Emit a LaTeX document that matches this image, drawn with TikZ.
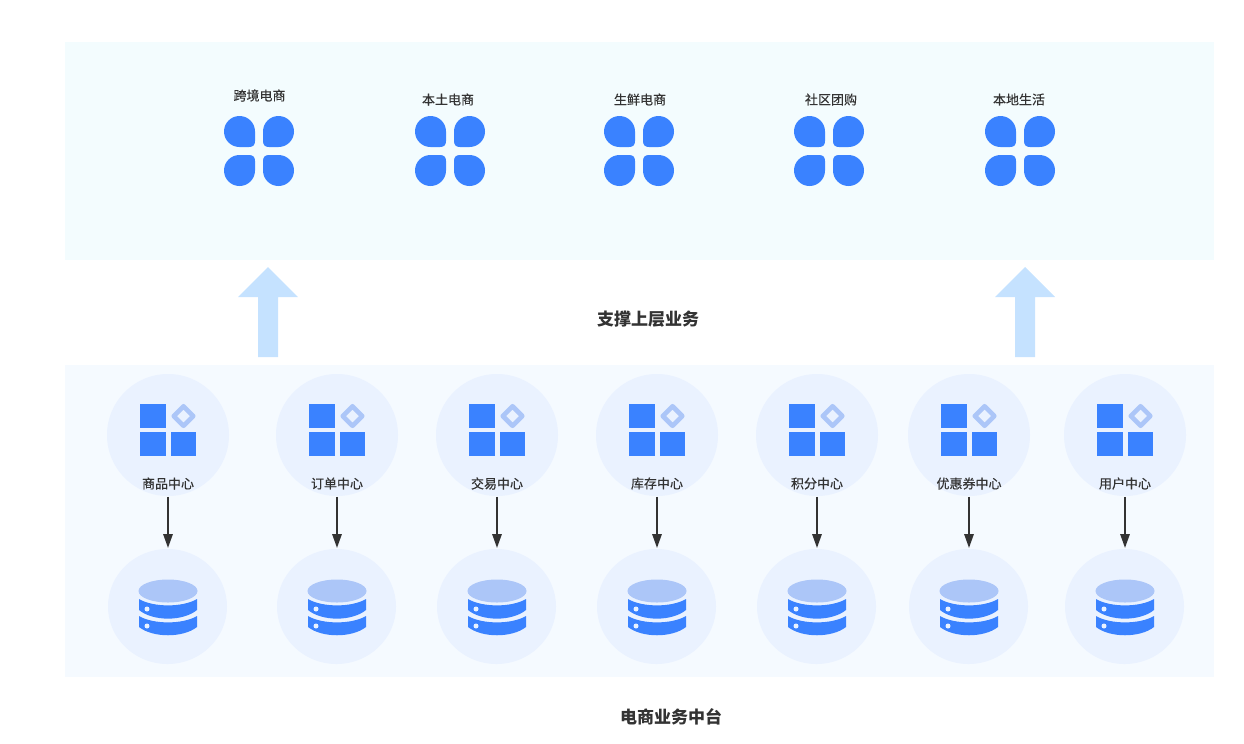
\documentclass[tikz,border=0pt]{standalone}
\usepackage{fontspec}
\setmainfont{Noto Sans CJK SC}
\newfontfamily\semibold[FakeBold=0.35]{Noto Sans CJK SC}
\usetikzlibrary{positioning,arrows.meta,shapes.geometric}
\definecolor{toppanel}{HTML}{F3FCFE}
\definecolor{lowpanel}{HTML}{F5FAFF}
\definecolor{disc}{HTML}{EAF2FF}
\definecolor{iconblue}{HTML}{3A82FF}
\definecolor{iconlight}{HTML}{ACC6F8}
\definecolor{bigarrow}{HTML}{C5E2FF}
\definecolor{ink}{HTML}{333333}
\tikzset{>={Triangle[length=10.5pt,width=7pt]}}
\newcommand{\petalpath}{(-19.5,-35) .. controls (-28.06,-35) and (-35,-28.06) .. (-35,-19.5) .. controls (-35,-10.94) and (-28.06,-4) .. (-19.5,-4) -- (-10,-4) .. controls (-6,-4) and (-4,-6) .. (-4,-10) -- (-4,-19.5) .. controls (-4,-28.06) and (-10.94,-35) .. (-19.5,-35) -- cycle}
\tikzset{
  tinylabel/.style={font=\fontsize{9.75}{11}\selectfont\semibold,text=ink,inner sep=0pt,minimum height=19.5pt},
  headline/.style={font=\fontsize{12.75}{15}\selectfont\bfseries,text=ink,inner sep=0pt},
  griddisc/.style={circle,fill=disc,inner sep=0pt,minimum size=91.5pt},
  dbdisc/.style={ellipse,fill=disc,inner sep=0pt,minimum width=89.25pt,minimum height=86.25pt},
  flow/.style={->,color=ink,line width=1.5pt},
  uparrow/.style={fill=bigarrow},
  appicon/.pic={
    \fill[iconblue] \petalpath;
    \fill[iconblue,xscale=-1] \petalpath;
    \fill[iconblue,yscale=-1] \petalpath;
    \fill[iconblue,xscale=-1,yscale=-1] \petalpath;
  },
  gridicon/.pic={
    \fill[iconblue] (-28,-31) rectangle (-2.5,-7);
    \fill[iconblue] (-28,-3) rectangle (-2.5,21);
    \fill[iconblue] (2.5,-3) rectangle (28,21);
    \draw[iconlight,line width=3.45pt,line join=round] (15.5,-28.75) -- (25.25,-19) -- (15.5,-9.25) -- (5.75,-19) -- cycle;
  },
  dbicon/.pic={
    \fill[iconlight] (0,-15) circle [x radius=29.5,y radius=11.5];
    \fill[iconblue] (-29,-7) .. controls (-15,1.5) and (15,1.5) .. (29,-7) -- (29,4) .. controls (15,15.5) and (-15,15.5) .. (-29,4) -- cycle;
    \fill[iconblue] (-29,10) .. controls (-15,18.5) and (15,18.5) .. (29,10) -- (29,21) .. controls (15,32) and (-15,32) .. (-29,21) -- cycle;
    \fill[disc] (-21,3) circle (2.5);
    \fill[disc] (-21,20) circle (2.5);
  }
}

\begin{document}
\begin{tikzpicture}[x=0.75pt,y=-0.75pt]
\useasboundingbox (0,0) rectangle (1244,743);

\fill[toppanel] (65,42) rectangle (1214,260);
\fill[lowpanel] (65,365) rectangle (1214,677);

% upper row
\foreach \i/\x/\lx/\ly/\txt in {1/259/259.5/95.5/跨境电商,2/450/448/99.5/本土电商,3/639/640/99.5/生鲜电商,4/829/831/99.5/社区团购,5/1020/1019/99.5/本地生活} {
  \node[tinylabel] (biz\i) at (\lx,\ly) {\txt};
  \pic at (\x,151) {appicon};
}

% big arrows
\foreach \x in {268,1025} {
  \fill[uparrow] (\x,267) -- ++(30,30) -- ++(-20,0) -- ++(0,60) -- ++(-20,0) -- ++(0,-60) -- ++(-20,0) -- cycle;
}

\node[headline] (support) at (648,319) {支撑上层业务};
\node[headline] (platform) at (671,717) {电商业务中台};

% service centers
\foreach \i/\x/\txt in {1/168/商品中心,2/337/订单中心,3/497/交易中心,4/657/库存中心,5/817/积分中心,6/969/优惠券中心,7/1125/用户中心} {
  \node[griddisc] (svc\i) at (\x,435) {};
  \pic at (\x,435) {gridicon};
  \node[tinylabel] (name\i) at (\x,483.5) {\txt};
  \node[dbdisc] (db\i) at (\x-0.5,606.5) {};
  \pic at (\x,606) {dbicon};
  \draw[flow] (name\i.south) -- (\x,548);
}

\end{tikzpicture}
\end{document}
